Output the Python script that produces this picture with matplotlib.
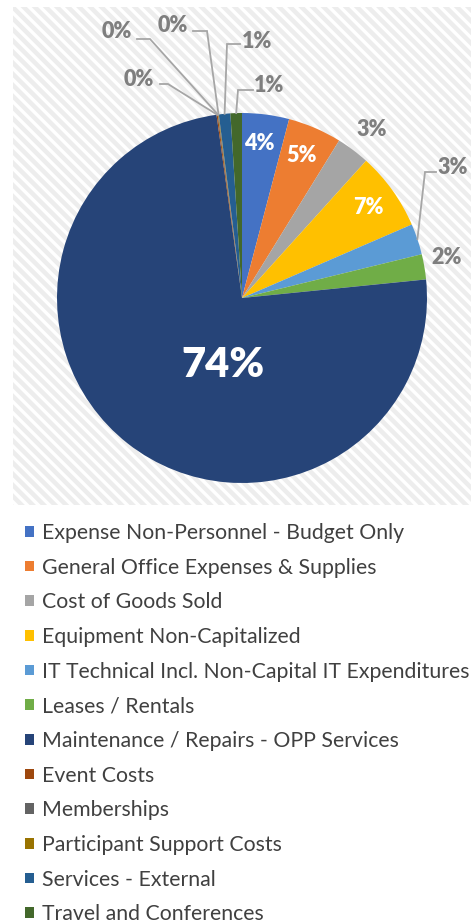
import matplotlib
matplotlib.use("Agg")
import matplotlib.pyplot as plt
from matplotlib.patches import Rectangle
import numpy as np

# ---------------- data ----------------
categories = [
    "Expense Non-Personnel - Budget Only",
    "General Office Expenses & Supplies",
    "Cost of Goods Sold",
    "Equipment Non-Capitalized",
    "IT Technical Incl. Non-Capital IT Expenditures",
    "Leases / Rentals",
    "Maintenance / Repairs - OPP Services",
    "Event Costs",
    "Memberships",
    "Participant Support Costs",
    "Services - External",
    "Travel and Conferences",
]
shares = [4.1, 4.7, 2.9, 6.8, 2.7, 2.2, 74.4, 0.1, 0.05, 0.05, 1.0, 1.0]
colors = ["#4472C4", "#ED7D31", "#A5A5A5", "#FFC000", "#5B9BD5", "#70AD47",
          "#264478", "#9E480E", "#636363", "#997300", "#255E91", "#43682B"]

# ---------------- layout (pixels) ----------------
W, H = 471, 924
CX, CY, R = 242, 298, 185

def d(px, py):
    return ((px - CX) / R, (CY - py) / R)

# label placement (pixel centers), inside flag, optional leader elbow points
label_pos = [
    ((259, 143), True, None),
    ((302, 155), True, None),
    ((372, 130), False, None),
    ((368, 207), True, None),
    ((453, 167), False, [(436, 172), (425, 172)]),
    ((447, 257), False, None),
    ((223, 365), True, None),
    ((139, 79), False, [(160, 84), (168, 84)]),
    ((117, 32), False, [(137, 39), (150, 39)]),
    ((173, 25), False, [(193, 31), (207, 31)]),
    ((257, 42), False, [(240, 44), (227, 44)]),
    ((269, 85), False, [(253, 90), (238, 90)]),
]

plt.rcParams["hatch.linewidth"] = 2.4
fig = plt.figure(figsize=(W / 100, H / 100), dpi=100)
fig.patch.set_facecolor("white")

# hatched chart-area background
bg = Rectangle((13 / W, 1 - 505 / H), (W - 13) / W, (505 - 7) / H,
               transform=fig.transFigure, facecolor="#ededed",
               edgecolor="white", hatch="\\\\\\", linewidth=0, zorder=-5)
fig.patches.append(bg)

ax = fig.add_axes([0, 0, 1, 1], zorder=1)
ax.patch.set_alpha(0)

wedges, _ = ax.pie(shares, colors=colors, startangle=90, counterclock=False,
                   radius=1, center=(0, 0), wedgeprops=dict(linewidth=0))
ax.set_xlim(-CX / R, (W - CX) / R)
ax.set_ylim(-(H - CY) / R, CY / R)
ax.set_aspect("equal")
ax.axis("off")

lbl_font = "Lato"
for w, v, (pos, inside, elbow) in zip(wedges, shares, label_pos):
    txt = f"{v:.0f}%"
    x, y = d(*pos)
    if inside:
        fs = 30 if v > 50 else 15.5
        ax.text(x, y, txt, ha="center", va="center", color="white",
                fontsize=fs, fontweight="heavy", family=lbl_font)
    else:
        ax.text(x, y, txt, ha="center", va="center", color="#7f7f7f",
                fontsize=15.5, fontweight="heavy", family=lbl_font)
        if elbow is not None:
            ang = np.deg2rad((w.theta1 + w.theta2) / 2)
            ex, ey = np.cos(ang), np.sin(ang)
            pts = [d(*p) for p in elbow] + [(ex, ey)]
            ax.plot([p[0] for p in pts], [p[1] for p in pts],
                    color="#a6a6a6", lw=1.3, solid_joinstyle="miter", zorder=3)

leg = fig.legend(wedges, categories, loc="upper left",
                 bbox_to_anchor=(25 / W, 1 - 523 / H),
                 bbox_transform=fig.transFigure, frameon=False,
                 prop=dict(family="Lato", size=15.3),
                 handlelength=0.4, handleheight=0.4, handletextpad=0.4,
                 labelspacing=0.69, borderpad=0, borderaxespad=0)
for t in leg.get_texts():
    t.set_color("#404040")

fig.savefig("out.png", dpi=100, facecolor="white")
